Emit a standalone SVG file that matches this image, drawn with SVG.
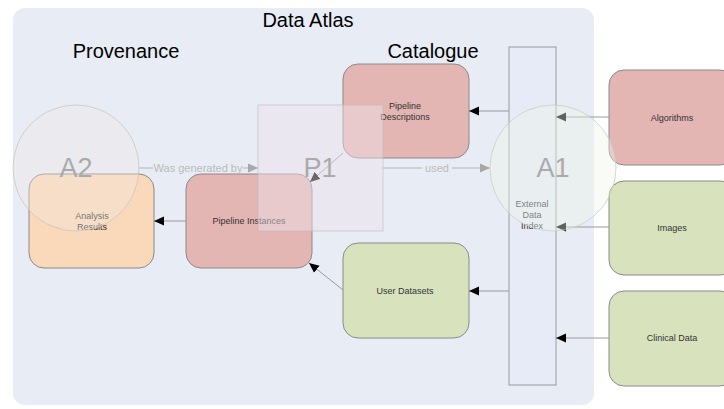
<svg xmlns="http://www.w3.org/2000/svg" width="724" height="409" viewBox="0 0 724 409">
<defs>
<marker id="ah" viewBox="0 0 10 10" refX="10" refY="5" markerWidth="10" markerHeight="10" markerUnits="userSpaceOnUse" orient="auto"><path d="M0,0.5 L10,5 L0,9.5 z" fill="#000"/></marker>
<marker id="ahg" viewBox="0 0 10 10" refX="10" refY="5" markerWidth="10" markerHeight="10" markerUnits="userSpaceOnUse" orient="auto"><path d="M0,0.5 L10,5 L0,9.5 z" fill="#a8a8a8"/></marker>
<style>
text{font-family:"Liberation Sans",Arial,sans-serif;}
.t{font-size:9px;fill:#333;text-anchor:middle;}
.h{font-size:20px;fill:#000;text-anchor:middle;}
.box{stroke:#8a8a8a;stroke-width:1;}
.red{fill:#e3b5b3;}
.green{fill:#d8e3bd;}
.orange{fill:#fad8ba;}
.c{stroke:#999;stroke-width:1;fill:none;marker-end:url(#ah);}
.g{stroke:#b4b4b4;stroke-width:1;fill:none;marker-end:url(#ahg);}
.gl{font-size:11px;fill:#bbb;text-anchor:middle;}
.big{font-size:27px;fill:#aaa;text-anchor:middle;}
</style>
</defs>
<rect x="13" y="8" width="581" height="397" rx="12" fill="#e8ecf4"/>
<text class="h" x="308" y="27">Data Atlas</text>
<text class="h" x="126" y="58">Provenance</text>
<text class="h" x="433" y="58">Catalogue</text>

<g id="pipeline-descriptions"><rect class="box red" x="343" y="64" width="126" height="94" rx="15"/><text class="t" x="405" y="109">Pipeline</text><text class="t" x="405" y="120">Descriptions</text></g>
<g id="user-datasets"><rect class="box green" x="343" y="243" width="126" height="95" rx="15"/><text class="t" x="405" y="294">User Datasets</text></g>
<g id="pipeline-instances"><rect class="box red" x="186" y="174" width="126" height="94" rx="15"/><text class="t" x="249" y="224">Pipeline Instances</text></g>
<g id="analysis-results"><rect class="box orange" x="29" y="174" width="125" height="94" rx="15"/><text class="t" x="92" y="219">Analysis</text><text class="t" x="92" y="230">Results</text></g>
<g id="external-data-index"><rect x="509" y="47" width="47" height="338" fill="#e6ebf7" stroke="#9a9a9a"/><text class="t" x="532" y="207">External</text><text class="t" x="532" y="218">Data</text><text class="t" x="532" y="229">Index</text></g>
<g id="algorithms"><rect class="box red" x="609" y="70" width="126" height="95" rx="15"/><text class="t" x="672" y="121">Algorithms</text></g>
<g id="images"><rect class="box green" x="609" y="181" width="126" height="94" rx="15"/><text class="t" x="672" y="231">Images</text></g>
<g id="clinical-data"><rect class="box green" x="609" y="291" width="126" height="95" rx="15"/><text class="t" x="672" y="341">Clinical Data</text></g>

<g id="connectors">
<line class="c" x1="509" y1="111" x2="469" y2="111"/>
<line class="c" x1="609" y1="117" x2="556" y2="117"/>
<line class="c" x1="609" y1="227" x2="556" y2="227"/>
<line class="c" x1="609" y1="338" x2="556" y2="338"/>
<line class="c" x1="509" y1="291" x2="469" y2="291"/>
<line class="c" x1="343" y1="153" x2="310" y2="182"/>
<line class="c" x1="343" y1="290" x2="309" y2="263"/>
<line class="c" x1="186" y1="221" x2="154" y2="221"/>
<path class="g" d="M139,168 H153 M243,168 H258"/>
<text class="gl" x="198" y="172">Was generated by</text>
<path class="g" d="M383,168 H422 M452,168 H490"/>
<text class="gl" x="437" y="172">used</text>
</g>

<g id="P1"><rect x="258" y="105" width="125" height="126" fill="#ede3ea" fill-opacity="0.45" stroke="#bbb" stroke-opacity="0.6"/><text class="big" x="320" y="177">P1</text></g>
<g id="A2"><circle cx="76" cy="168" r="63" fill="#f2ece6" fill-opacity="0.35" stroke="#cdc4bf" stroke-opacity="0.8"/><text class="big" x="76" y="177">A2</text></g>
<g id="A1"><circle cx="553" cy="168" r="63" fill="#eef4e8" fill-opacity="0.4" stroke="#c9cfc2" stroke-opacity="0.8"/><text class="big" x="553" y="177">A1</text></g>
</svg>
